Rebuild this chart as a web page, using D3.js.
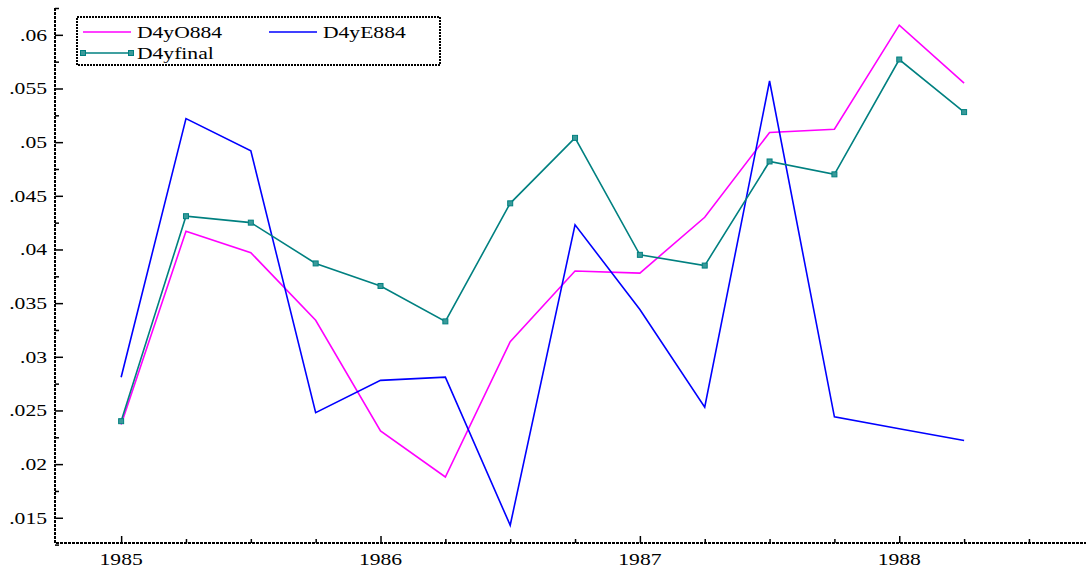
<!DOCTYPE html>
<html>
<head>
<meta charset="utf-8">
<script src="https://cdn.jsdelivr.net/npm/d3@7"></script>
<style>
	body { margin:0; background:#fff; }
	svg text { font-family: "Liberation Serif", "Times New Roman", serif; font-size:17px; fill:#000; }
	.axisLine { stroke:#000; stroke-width:2; stroke-dasharray:3,1; fill:none; }
	.tick line { stroke:#000; stroke-width:1.5; }
	.curveLine { fill:none; stroke-width:1.6; }
</style>
</head>
<body>
<svg width="1087" height="572"></svg>
<script>
// quarters 1985Q1 .. 1988Q2
periods = [1985, 1985.25, 1985.5, 1985.75, 1986, 1986.25, 1986.5, 1986.75, 1987, 1987.25, 1987.5, 1987.75, 1988, 1988.25];

D4yO884 = [0.0237, 0.0417, 0.0397, 0.0334, 0.0231, 0.0188, 0.0314, 0.0380, 0.0378, 0.0430, 0.0509, 0.0512, 0.0609, 0.0555];
D4yE884 = [0.0281, 0.0522, 0.0492, 0.0248, 0.0278, 0.0281, 0.0143, 0.0423, 0.0344, 0.0253, 0.0557, 0.0244, 0.0233, 0.0222];
D4yfinal = [0.0240, 0.0431, 0.0425, 0.0387, 0.0366, 0.0333, 0.0443, 0.0504, 0.0395, 0.0385, 0.0482, 0.0470, 0.0577, 0.0528];

seriesNames = ["D4yO884", "D4yE884", "D4yfinal"];
seriesColors = ["#ff00ff", "#0000ff", "#008080"];

xTicks = [1985, 1986, 1987, 1988];
yTicks = [0.015, 0.02, 0.025, 0.03, 0.035, 0.04, 0.045, 0.05, 0.055, 0.06];
yTickLabels = [".015", ".02", ".025", ".03", ".035", ".04", ".045", ".05", ".055", ".06"];

stretch = 1.27; // text in the picture is wider than normal

svg = d3.select("svg");
padLeft = 55; padRight = 1086; padTop = 8; padBottom = 543;

x = d3.scaleLinear()
		.domain([1984.745, 1988.72])
		.range([padLeft, padRight])
;
y = d3.scaleLinear()
		.domain([0.01265, 0.0625])
		.range([padBottom, padTop])
;

// minor ticks
xMinor = d3.range(1985, 1988.7, 0.25).filter(function(d){ return xTicks.indexOf(d) < 0; });
yMinor = d3.range(0.0125, 0.0626, 0.0025).map(function(d){ return +d.toFixed(4); }).filter(function(d){ return yTicks.indexOf(d) < 0; });

gx = svg.append("g")
		.attr("transform", "translate(" + [0, padBottom] + ")")
		.call(d3.axisTop(x).tickValues(xTicks).tickSize(7).tickFormat(""))
;
gx.append("g").call(d3.axisTop(x).tickValues(xMinor).tickSize(4).tickFormat(""));
gx.selectAll(".domain").remove();

gy = svg.append("g")
		.attr("transform", "translate(" + [padLeft, 0] + ")")
		.call(d3.axisRight(y).tickValues(yTicks).tickSize(8).tickFormat(""))
;
gy.append("g").call(d3.axisRight(y).tickValues(yMinor).tickSize(4).tickFormat(""));
gy.selectAll(".domain").remove();

// labels
xTicks.forEach(function(d) {
	svg.append("text")
			.attr("transform", "translate(" + [x(d), padBottom + 22] + ") scale(" + stretch + ",1)")
			.attr("text-anchor", "middle")
			.text(d)
	;
});
yTicks.forEach(function(d, i) {
	svg.append("text")
			.attr("transform", "translate(" + [padLeft - 8, y(d) + 6] + ") scale(" + stretch + ",1)")
			.attr("text-anchor", "end")
			.text(yTickLabels[i])
	;
});

line = d3.line()
		.x(function(d, i) { return x(periods[i]); })
		.y(function(d) { return y(d); })
;

[D4yO884, D4yE884, D4yfinal].forEach(function(dat, k) {
	svg.append("path")
			.attr("class", "curveLine")
			.attr("stroke", seriesColors[k])
			.attr("d", line(dat))
	;
});

svg.selectAll(".mark")
		.data(D4yfinal)
		.enter().append("rect")
				.attr("class", "mark")
				.attr("x", function(d, i) { return x(periods[i]) - 2.5; })
				.attr("y", function(d) { return y(d) - 2.5; })
				.attr("width", 5)
				.attr("height", 5)
				.attr("fill", "#3a9a9a")
				.attr("stroke", "#008080")
				.attr("stroke-width", 1)
;

// axis lines
svg.append("path")
		.attr("class", "axisLine")
		.attr("d", "M" + padLeft + "," + padTop + "V" + padBottom + "H" + padRight)
;

// legend
legend = svg.append("g").attr("transform", "translate(77,17)");
legend.append("rect")
		.attr("width", 363)
		.attr("height", 48)
		.attr("fill", "#fff")
		.attr("stroke", "#000")
		.attr("stroke-width", 2)
		.attr("stroke-dasharray", "2,1")
;
legendPos = [[6, 15], [192, 15], [6, 36]];
seriesNames.forEach(function(name, k) {
	item = legend.append("g").attr("transform", "translate(" + legendPos[k] + ")");
	item.append("line")
			.attr("x1", 0).attr("x2", 48)
			.attr("stroke", seriesColors[k])
			.attr("stroke-width", 1.6)
	;
	if (k == 2) {
		[0, 48].forEach(function(p) {
			item.append("rect")
					.attr("x", p - 2.5).attr("y", -2.5)
					.attr("width", 5).attr("height", 5)
					.attr("fill", "#3a9a9a")
					.attr("stroke", "#008080")
			;
		});
	}
	item.append("text")
			.attr("transform", "translate(54,6) scale(" + stretch + ",1)")
			.text(name)
	;
});
</script>
</body>
</html>
